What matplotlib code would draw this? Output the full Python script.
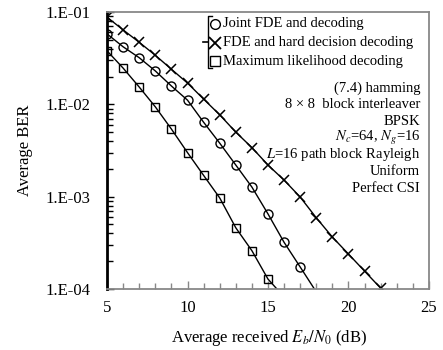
import numpy as np
import matplotlib
matplotlib.use("Agg")
import matplotlib.pyplot as plt
from matplotlib.lines import Line2D
from matplotlib.ticker import FixedLocator, MultipleLocator, FuncFormatter

plt.rcParams['font.family'] = ['Liberation Serif', 'DejaVu Serif']
plt.rcParams['mathtext.fontset'] = 'stix'

W, H = 443, 350

# Eb/N0 (dB) and BER
snr_joint = [5, 6, 7, 8, 9, 10, 11, 12, 13, 14, 15, 16, 17, 18]
ber_joint = [0.058, 0.042, 0.032, 0.023, 0.0158, 0.0111, 0.0064, 0.0038,
             0.0022, 0.00127, 6.5e-4, 3.2e-4, 1.73e-4, 9.3e-5]

snr_hard = [5, 6, 7, 8, 9, 10, 11, 12, 13, 14, 15, 16, 17, 18, 19, 20, 21, 22]
ber_hard = [0.088, 0.064, 0.047, 0.034, 0.024, 0.017, 0.0114, 0.0077,
            0.0050, 0.0034, 0.0022, 0.00151, 9.9e-4, 5.9e-4, 3.65e-4,
            2.39e-4, 1.56e-4, 1.02e-4]

snr_ml = [5, 6, 7, 8, 9, 10, 11, 12, 13, 14, 15, 16]
ber_ml = [0.038, 0.0247, 0.0154, 0.0094, 0.0054, 0.0030, 0.0017, 9.7e-4,
          4.6e-4, 2.6e-4, 1.28e-4, 8.2e-5]

legend_labels = ["Joint FDE and decoding",
                 "FDE and hard decision decoding",
                 "Maximum likelihood decoding"]
info_lines = ["(7.4) hamming",
              "8 \u00d7 8  block interleaver",
              "BPSK",
              "$N_c$=64, $N_g$=16",
              "$L$=16 path block Rayleigh",
              "Uniform",
              "Perfect CSI"]


def fx(x):
    return x / W


def fy(y):
    return 1 - y / H


fig = plt.figure(figsize=(W / 100, H / 100), dpi=100)
ax = fig.add_axes([fx(107), fy(289), (429 - 107) / W, (289 - 12) / H])

ax.plot(snr_joint, ber_joint, color='black', lw=1, marker='o', ms=6.5,
        mfc='none', mec='black', mew=1, markevery=slice(0, -1))
ax.plot(snr_hard, ber_hard, color='black', lw=1, marker='x', ms=7.5,
        mew=1.1)
ax.plot(snr_ml, ber_ml, color='black', lw=1, marker='s', ms=6,
        mfc='none', mec='black', mew=1, markevery=slice(0, -1))

ax.set_yscale('log')
ax.set_xlim(5, 25)
ax.set_ylim(1e-4, 1e-1)

ax.xaxis.set_major_locator(MultipleLocator(5))
ax.xaxis.set_minor_locator(MultipleLocator(1))
ax.yaxis.set_major_locator(FixedLocator([1e-4, 1e-3, 1e-2, 1e-1]))
ax.yaxis.set_major_formatter(
    FuncFormatter(lambda v, p: "1.E-%02d" % int(round(-np.log10(v)))))

for s in ['top', 'right', 'bottom']:
    ax.spines[s].set_color('#888888')
    ax.spines[s].set_linewidth(1.3)
ax.spines['left'].set_color('black')
ax.spines['left'].set_linewidth(2)

ax.tick_params(axis='x', which='both', direction='in', colors='#888888',
               labelcolor='black', labelsize=12, pad=8)
ax.tick_params(axis='x', which='major', length=6, width=1)
ax.tick_params(axis='x', which='minor', length=4, width=1)
ax.tick_params(axis='y', which='both', direction='in', colors='black',
               labelsize=12, pad=12)
ax.tick_params(axis='y', which='major', length=5, width=1)
ax.tick_params(axis='y', which='minor', length=4, width=1)

fig.text(fx(269), fy(338), "Average received $E_b/N_0$ (dB)", fontsize=12,
         ha='center', va='center')
fig.text(fx(25), fy(150), "Average BER", fontsize=12, rotation=90,
         ha='center', va='center')

# legend with bracket
markers = [dict(marker='o', ms=7, mfc='none', mec='black', mew=1),
           dict(marker='x', ms=8, mec='black', mew=1.3),
           dict(marker='s', ms=7, mfc='none', mec='black', mew=1)]
for i, (lab, mk) in enumerate(zip(legend_labels, markers)):
    y = 24 + 18.5 * i
    fig.add_artist(Line2D([fx(215)], [fy(y)], linestyle='none', **mk))
    fig.text(fx(223), fy(y), lab, fontsize=10.5, ha='left', va='center')

bx = [fx(212), fx(208), fx(208), fx(212)]
by = [fy(16), fy(16), fy(68), fy(68)]
fig.add_artist(Line2D(bx, by, color='black', lw=1))
fig.add_artist(Line2D([fx(203), fx(208)], [fy(42), fy(42)], color='black',
                      lw=1.2))

for i, line in enumerate(info_lines):
    fig.text(fx(420), fy(88 + 16.7 * i), line, fontsize=10.5, ha='right',
             va='center')

fig.savefig("out.png", dpi=100)
